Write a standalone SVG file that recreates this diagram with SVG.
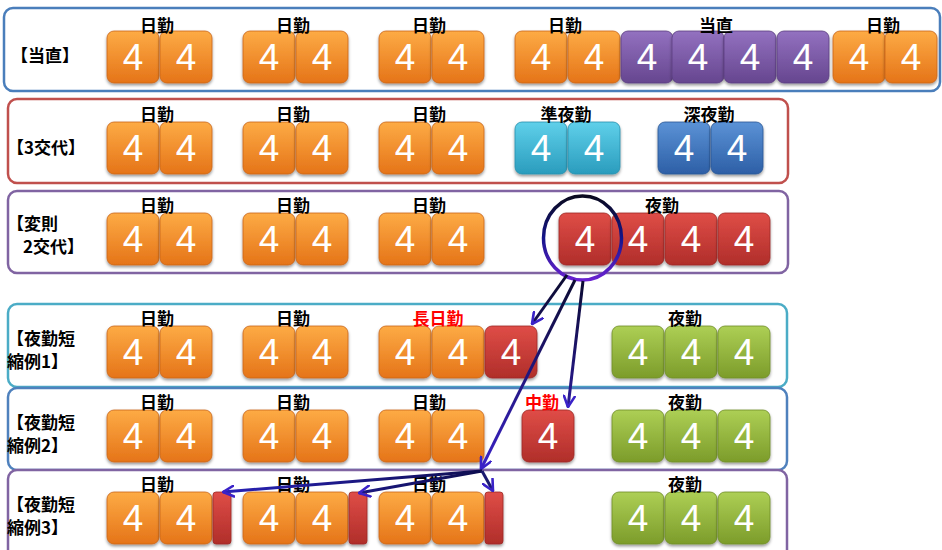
<svg xmlns="http://www.w3.org/2000/svg" width="942" height="550" viewBox="0 0 942 550">
<defs>
<linearGradient id="gO" x1="0" y1="0" x2="0" y2="1"><stop offset="0" stop-color="#fdab45"/><stop offset="1" stop-color="#e57418"/></linearGradient>
<linearGradient id="gP" x1="0" y1="0" x2="0" y2="1"><stop offset="0" stop-color="#9371c0"/><stop offset="1" stop-color="#66468f"/></linearGradient>
<linearGradient id="gC" x1="0" y1="0" x2="0" y2="1"><stop offset="0" stop-color="#5fd0ea"/><stop offset="1" stop-color="#2a9cbd"/></linearGradient>
<linearGradient id="gB" x1="0" y1="0" x2="0" y2="1"><stop offset="0" stop-color="#5b92d6"/><stop offset="1" stop-color="#2d5fa6"/></linearGradient>
<linearGradient id="gR" x1="0" y1="0" x2="0" y2="1"><stop offset="0" stop-color="#df4d47"/><stop offset="1" stop-color="#b02e2a"/></linearGradient>
<linearGradient id="gG" x1="0" y1="0" x2="0" y2="1"><stop offset="0" stop-color="#adcf55"/><stop offset="1" stop-color="#7c9c2a"/></linearGradient>
<linearGradient id="gCirc" x1="0" y1="0" x2="0" y2="1"><stop offset="0" stop-color="#0a0a1e"/><stop offset="0.5" stop-color="#14148a"/><stop offset="1" stop-color="#6a22d2"/></linearGradient>
<linearGradient id="gArr" gradientUnits="userSpaceOnUse" x1="0" y1="275" x2="0" y2="470"><stop offset="0" stop-color="#0a0a2e"/><stop offset="1" stop-color="#3a22c8"/></linearGradient>
<linearGradient id="gArr2" gradientUnits="userSpaceOnUse" x1="482" y1="0" x2="220" y2="0"><stop offset="0" stop-color="#0e0e50"/><stop offset="1" stop-color="#2a22b8"/></linearGradient>
<filter id="sh" x="-10%" y="-10%" width="130%" height="130%"><feDropShadow dx="0" dy="2" stdDeviation="1.5" flood-color="#000" flood-opacity="0.4"/></filter>
<marker id="ah" viewBox="0 0 12 12" refX="11" refY="6" markerWidth="13" markerHeight="13" markerUnits="userSpaceOnUse" orient="auto"><path d="M1,1 L11,6 L1,11" fill="none" stroke="#3a22c8" stroke-width="2.4" stroke-linecap="round" stroke-linejoin="round"/></marker>
<style>
.fr{fill:#fff;stroke-width:2.5}
.bx{stroke-width:0.8;filter:url(#sh)}
.o{fill:url(#gO);stroke:#c9661a}
.p{fill:url(#gP);stroke:#5a3e80}
.c{fill:url(#gC);stroke:#2790ad}
.bl{fill:url(#gB);stroke:#2a5795}
.r{fill:url(#gR);stroke:#9c2a26}
.g{fill:url(#gG);stroke:#6f8d27}
.n{font-family:"Liberation Sans",Arial,sans-serif;font-size:37px;fill:#fff;text-anchor:middle}
.lb{font-family:"Noto Sans CJK JP","Noto Sans CJK SC",sans-serif;font-weight:bold;font-size:17px;fill:#000;text-anchor:middle}
.lr{fill:#ff0000}
.hd{font-family:"Noto Sans CJK JP","Noto Sans CJK SC",sans-serif;font-weight:bold;font-size:17px;fill:#000}
.ar{fill:none;stroke-width:3;marker-end:url(#ah)}
</style>
</defs>

<!-- frames -->
<g id="frames">
<rect class="fr" x="4" y="8" width="936" height="83" rx="9" stroke="#4a7ebb"/>
<rect class="fr" x="8" y="99" width="780" height="84" rx="9" stroke="#c0504d"/>
<rect class="fr" x="8" y="191" width="780" height="82" rx="9" stroke="#8064a2"/>
<rect class="fr" x="8" y="304" width="779" height="83" rx="9" stroke="#4bacc6"/>
<rect class="fr" x="8" y="388" width="779" height="82" rx="9" stroke="#4f81bd"/>
<rect class="fr" x="8" y="470" width="779" height="90" rx="9" stroke="#8064a2"/>
</g>

<!-- headers -->
<g id="headers">
<text class="hd" x="11" y="62">【当直】</text>
<text class="hd" x="7" y="154">【3交代】</text>
<text class="hd" x="7" y="230">【変則</text>
<text class="hd" x="23" y="253">2交代】</text>
<text class="hd" x="7" y="345">【夜勤短</text>
<text class="hd" x="7" y="368">縮例1】</text>
<text class="hd" x="7" y="429">【夜勤短</text>
<text class="hd" x="7" y="452">縮例2】</text>
<text class="hd" x="7" y="511">【夜勤短</text>
<text class="hd" x="7" y="534">縮例3】</text>
</g>

<!-- Row 1 -->
<g id="row1">
<g id="r1b1"><rect class="bx o" x="107" y="31" width="52" height="52" rx="7"/><text class="n" x="133" y="70">4</text></g>
<g id="r1b2"><rect class="bx o" x="160" y="31" width="52" height="52" rx="7"/><text class="n" x="186" y="70">4</text></g>
<g id="r1b3"><rect class="bx o" x="243" y="31" width="52" height="52" rx="7"/><text class="n" x="269" y="70">4</text></g>
<g id="r1b4"><rect class="bx o" x="296" y="31" width="52" height="52" rx="7"/><text class="n" x="322" y="70">4</text></g>
<g id="r1b5"><rect class="bx o" x="379" y="31" width="52" height="52" rx="7"/><text class="n" x="405" y="70">4</text></g>
<g id="r1b6"><rect class="bx o" x="432" y="31" width="52" height="52" rx="7"/><text class="n" x="458" y="70">4</text></g>
<g id="r1b7"><rect class="bx o" x="515" y="31" width="52" height="52" rx="7"/><text class="n" x="541" y="70">4</text></g>
<g id="r1b8"><rect class="bx o" x="568" y="31" width="52" height="52" rx="7"/><text class="n" x="594" y="70">4</text></g>
<g id="r1b9"><rect class="bx p" x="621" y="31" width="52" height="52" rx="7"/><text class="n" x="647" y="70">4</text></g>
<g id="r1b10"><rect class="bx p" x="672" y="31" width="52" height="52" rx="7"/><text class="n" x="698" y="70">4</text></g>
<g id="r1b11"><rect class="bx p" x="724" y="31" width="52" height="52" rx="7"/><text class="n" x="750" y="70">4</text></g>
<g id="r1b12"><rect class="bx p" x="777" y="31" width="52" height="52" rx="7"/><text class="n" x="803" y="70">4</text></g>
<g id="r1b13"><rect class="bx o" x="833" y="31" width="52" height="52" rx="7"/><text class="n" x="859" y="70">4</text></g>
<g id="r1b14"><rect class="bx o" x="885" y="31" width="52" height="52" rx="7"/><text class="n" x="911" y="70">4</text></g>
<text class="lb" x="157" y="32">日勤</text>
<text class="lb" x="293" y="32">日勤</text>
<text class="lb" x="429" y="32">日勤</text>
<text class="lb" x="565" y="32">日勤</text>
<text class="lb" x="716" y="32">当直</text>
<text class="lb" x="883" y="32">日勤</text>
</g>

<!-- Row 2 -->
<g id="row2">
<g id="r2b1"><rect class="bx o" x="107" y="122" width="52" height="52" rx="7"/><text class="n" x="133" y="161">4</text></g>
<g id="r2b2"><rect class="bx o" x="160" y="122" width="52" height="52" rx="7"/><text class="n" x="186" y="161">4</text></g>
<g id="r2b3"><rect class="bx o" x="243" y="122" width="52" height="52" rx="7"/><text class="n" x="269" y="161">4</text></g>
<g id="r2b4"><rect class="bx o" x="296" y="122" width="52" height="52" rx="7"/><text class="n" x="322" y="161">4</text></g>
<g id="r2b5"><rect class="bx o" x="379" y="122" width="52" height="52" rx="7"/><text class="n" x="405" y="161">4</text></g>
<g id="r2b6"><rect class="bx o" x="432" y="122" width="52" height="52" rx="7"/><text class="n" x="458" y="161">4</text></g>
<g id="r2b7"><rect class="bx c" x="515" y="122" width="52" height="52" rx="7"/><text class="n" x="541" y="161">4</text></g>
<g id="r2b8"><rect class="bx c" x="568" y="122" width="52" height="52" rx="7"/><text class="n" x="594" y="161">4</text></g>
<g id="r2b9"><rect class="bx bl" x="658" y="122" width="52" height="52" rx="7"/><text class="n" x="684" y="161">4</text></g>
<g id="r2b10"><rect class="bx bl" x="711" y="122" width="52" height="52" rx="7"/><text class="n" x="737" y="161">4</text></g>
<text class="lb" x="157" y="121">日勤</text>
<text class="lb" x="293" y="121">日勤</text>
<text class="lb" x="429" y="121">日勤</text>
<text class="lb" x="566" y="121">準夜勤</text>
<text class="lb" x="709" y="121">深夜勤</text>
</g>

<!-- Row 3 -->
<g id="row3">
<g id="r3b1"><rect class="bx o" x="107" y="213" width="52" height="52" rx="7"/><text class="n" x="133" y="252">4</text></g>
<g id="r3b2"><rect class="bx o" x="160" y="213" width="52" height="52" rx="7"/><text class="n" x="186" y="252">4</text></g>
<g id="r3b3"><rect class="bx o" x="243" y="213" width="52" height="52" rx="7"/><text class="n" x="269" y="252">4</text></g>
<g id="r3b4"><rect class="bx o" x="296" y="213" width="52" height="52" rx="7"/><text class="n" x="322" y="252">4</text></g>
<g id="r3b5"><rect class="bx o" x="379" y="213" width="52" height="52" rx="7"/><text class="n" x="405" y="252">4</text></g>
<g id="r3b6"><rect class="bx o" x="432" y="213" width="52" height="52" rx="7"/><text class="n" x="458" y="252">4</text></g>
<g id="r3b7"><rect class="bx r" x="559" y="213" width="52" height="52" rx="7"/><text class="n" x="585" y="252">4</text></g>
<g id="r3b8"><rect class="bx r" x="612" y="213" width="52" height="52" rx="7"/><text class="n" x="638" y="252">4</text></g>
<g id="r3b9"><rect class="bx r" x="665" y="213" width="52" height="52" rx="7"/><text class="n" x="691" y="252">4</text></g>
<g id="r3b10"><rect class="bx r" x="718" y="213" width="52" height="52" rx="7"/><text class="n" x="744" y="252">4</text></g>
<text class="lb" x="157" y="212">日勤</text>
<text class="lb" x="293" y="212">日勤</text>
<text class="lb" x="429" y="212">日勤</text>
<text class="lb" x="662" y="212">夜勤</text>
</g>

<!-- Row 4 -->
<g id="row4">
<g id="r4b1"><rect class="bx o" x="107" y="326" width="52" height="52" rx="7"/><text class="n" x="133" y="365">4</text></g>
<g id="r4b2"><rect class="bx o" x="160" y="326" width="52" height="52" rx="7"/><text class="n" x="186" y="365">4</text></g>
<g id="r4b3"><rect class="bx o" x="243" y="326" width="52" height="52" rx="7"/><text class="n" x="269" y="365">4</text></g>
<g id="r4b4"><rect class="bx o" x="296" y="326" width="52" height="52" rx="7"/><text class="n" x="322" y="365">4</text></g>
<g id="r4b5"><rect class="bx o" x="379" y="326" width="52" height="52" rx="7"/><text class="n" x="405" y="365">4</text></g>
<g id="r4b6"><rect class="bx o" x="432" y="326" width="52" height="52" rx="7"/><text class="n" x="458" y="365">4</text></g>
<g id="r4b7"><rect class="bx r" x="485" y="326" width="52" height="52" rx="7"/><text class="n" x="511" y="365">4</text></g>
<g id="r4b8"><rect class="bx g" x="612" y="326" width="52" height="52" rx="7"/><text class="n" x="638" y="365">4</text></g>
<g id="r4b9"><rect class="bx g" x="665" y="326" width="52" height="52" rx="7"/><text class="n" x="691" y="365">4</text></g>
<g id="r4b10"><rect class="bx g" x="718" y="326" width="52" height="52" rx="7"/><text class="n" x="744" y="365">4</text></g>
<text class="lb" x="157" y="325">日勤</text>
<text class="lb" x="293" y="325">日勤</text>
<text class="lb lr" x="438" y="325">長日勤</text>
<text class="lb" x="685" y="325">夜勤</text>
</g>

<!-- Row 5 -->
<g id="row5">
<g id="r5b1"><rect class="bx o" x="107" y="410" width="52" height="52" rx="7"/><text class="n" x="133" y="449">4</text></g>
<g id="r5b2"><rect class="bx o" x="160" y="410" width="52" height="52" rx="7"/><text class="n" x="186" y="449">4</text></g>
<g id="r5b3"><rect class="bx o" x="243" y="410" width="52" height="52" rx="7"/><text class="n" x="269" y="449">4</text></g>
<g id="r5b4"><rect class="bx o" x="296" y="410" width="52" height="52" rx="7"/><text class="n" x="322" y="449">4</text></g>
<g id="r5b5"><rect class="bx o" x="379" y="410" width="52" height="52" rx="7"/><text class="n" x="405" y="449">4</text></g>
<g id="r5b6"><rect class="bx o" x="432" y="410" width="52" height="52" rx="7"/><text class="n" x="458" y="449">4</text></g>
<g id="r5b7"><rect class="bx r" x="522" y="410" width="52" height="52" rx="7"/><text class="n" x="548" y="449">4</text></g>
<g id="r5b8"><rect class="bx g" x="612" y="410" width="52" height="52" rx="7"/><text class="n" x="638" y="449">4</text></g>
<g id="r5b9"><rect class="bx g" x="665" y="410" width="52" height="52" rx="7"/><text class="n" x="691" y="449">4</text></g>
<g id="r5b10"><rect class="bx g" x="718" y="410" width="52" height="52" rx="7"/><text class="n" x="744" y="449">4</text></g>
<text class="lb" x="157" y="409">日勤</text>
<text class="lb" x="293" y="409">日勤</text>
<text class="lb" x="429" y="409">日勤</text>
<text class="lb lr" x="542" y="409">中勤</text>
<text class="lb" x="685" y="409">夜勤</text>
</g>

<!-- Row 6 -->
<g id="row6">
<g id="r6b1"><rect class="bx o" x="107" y="492" width="52" height="52" rx="7"/><text class="n" x="133" y="531">4</text></g>
<g id="r6b2"><rect class="bx o" x="160" y="492" width="52" height="52" rx="7"/><text class="n" x="186" y="531">4</text></g>
<g id="r6s1"><rect class="bx r" x="213" y="492" width="18" height="52" rx="3"/></g>
<g id="r6b3"><rect class="bx o" x="243" y="492" width="52" height="52" rx="7"/><text class="n" x="269" y="531">4</text></g>
<g id="r6b4"><rect class="bx o" x="296" y="492" width="52" height="52" rx="7"/><text class="n" x="322" y="531">4</text></g>
<g id="r6s2"><rect class="bx r" x="349" y="492" width="18" height="52" rx="3"/></g>
<g id="r6b5"><rect class="bx o" x="379" y="492" width="52" height="52" rx="7"/><text class="n" x="405" y="531">4</text></g>
<g id="r6b6"><rect class="bx o" x="432" y="492" width="52" height="52" rx="7"/><text class="n" x="458" y="531">4</text></g>
<g id="r6s3"><rect class="bx r" x="485" y="492" width="18" height="52" rx="3"/></g>
<g id="r6b8"><rect class="bx g" x="612" y="492" width="52" height="52" rx="7"/><text class="n" x="638" y="531">4</text></g>
<g id="r6b9"><rect class="bx g" x="665" y="492" width="52" height="52" rx="7"/><text class="n" x="691" y="531">4</text></g>
<g id="r6b10"><rect class="bx g" x="718" y="492" width="52" height="52" rx="7"/><text class="n" x="744" y="531">4</text></g>
<text class="lb" x="157" y="491">日勤</text>
<text class="lb" x="293" y="491">日勤</text>
<text class="lb" x="429" y="491">日勤</text>
<text class="lb" x="685" y="491">夜勤</text>
</g>

<!-- highlight circle -->
<g id="circle">
<ellipse cx="582.5" cy="238" rx="39" ry="42" fill="none" stroke="url(#gCirc)" stroke-width="3.5"/>
</g>

<!-- connectors -->
<g id="connectors">
<line class="ar" x1="567" y1="275" x2="532" y2="324" stroke="url(#gArr)"/>
<line class="ar" x1="583" y1="281" x2="568" y2="407" stroke="url(#gArr)"/>
<line class="ar" x1="575" y1="280" x2="481" y2="469" stroke="url(#gArr)"/>
<line class="ar" x1="482" y1="471" x2="223" y2="492" stroke="url(#gArr2)"/>
<line class="ar" x1="482" y1="471" x2="359" y2="493" stroke="url(#gArr2)"/>
<line class="ar" x1="482" y1="471" x2="493" y2="491" stroke="#1a1a70"/>
</g>
</svg>
